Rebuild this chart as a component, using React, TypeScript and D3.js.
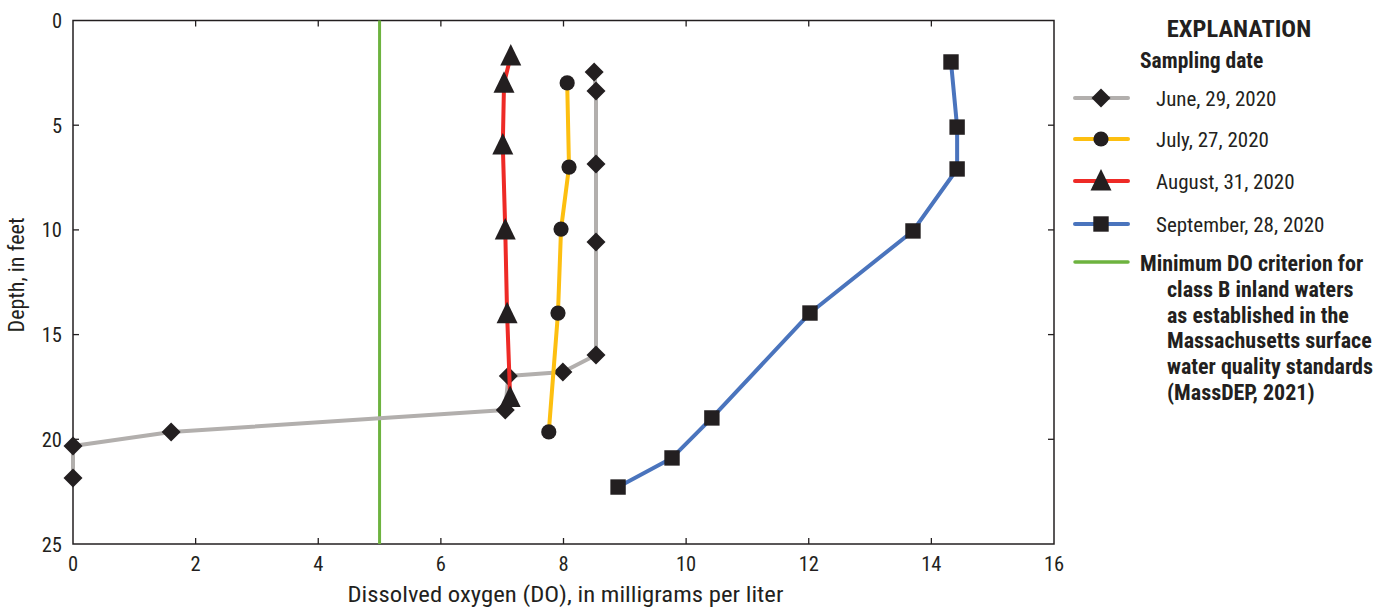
import React, { useEffect, useRef } from "react";
import * as d3 from "d3";

// ---- Data ----
const seriesNames = ["June, 29, 2020", "July, 27, 2020", "August, 31, 2020", "September, 28, 2020"];

const juneDO = [8.5, 8.53, 8.53, 8.53, 8.53, 7.99, 7.1, 7.05, 1.6, 0, 0];
const juneDepth = [2.46, 3.37, 6.85, 10.58, 15.97, 16.79, 16.98, 18.6, 19.65, 20.32, 21.85];

const julyDO = [8.06, 8.09, 7.96, 7.91, 7.76];
const julyDepth = [2.98, 7.0, 9.96, 13.97, 19.65];

const augustDO = [7.14, 7.03, 7.01, 7.05, 7.08, 7.13];
const augustDepth = [1.7, 3.0, 5.95, 10.0, 14.0, 18.0];

const septemberDO = [14.32, 14.42, 14.42, 13.7, 12.02, 10.42, 9.77, 8.89];
const septemberDepth = [1.98, 5.09, 7.09, 10.05, 13.97, 18.98, 20.89, 22.28];

const criterionDO = 5;

const xTicks = [0, 2, 4, 6, 8, 10, 12, 14, 16];
const yTicks = [0, 5, 10, 15, 20, 25];

const criterionLines = [
  "Minimum DO criterion for",
  "class B inland waters",
  "as established in the",
  "Massachusetts surface",
  "water quality standards",
  "(MassDEP, 2021)",
];

const FONT = "'Liberation Sans Narrow', 'Roboto Condensed', 'Arial Narrow', sans-serif";
const INK = "#231f20";

export default function App() {
  const ref = useRef<SVGSVGElement | null>(null);

  useEffect(() => {
    const svg = d3.select(ref.current);
    svg.selectAll("*").remove();

    const left = 73, right = 1054, top = 20.5, bottom = 544;
    const x = d3.scaleLinear().domain([0, 16]).range([left, right]);
    const y = d3.scaleLinear().domain([0, 25]).range([top, bottom]);

    const series = [
      { name: seriesNames[0], xs: juneDO, ys: juneDepth, color: "#b2afad", shape: "diamond" },
      { name: seriesNames[1], xs: julyDO, ys: julyDepth, color: "#fdbf10", shape: "circle" },
      { name: seriesNames[2], xs: augustDO, ys: augustDepth, color: "#ee2a26", shape: "triangle" },
      { name: seriesNames[3], xs: septemberDO, ys: septemberDepth, color: "#4a74bd", shape: "square" },
    ];

    const markerPath = (shape: string, cx: number, cy: number) => {
      if (shape === "diamond") {
        const r = 9.5;
        return `M${cx},${cy - r}L${cx + r},${cy}L${cx},${cy + r}L${cx - r},${cy}Z`;
      }
      if (shape === "square") {
        const h = 7.7;
        return `M${cx - h},${cy - h}h${2 * h}v${2 * h}h${-2 * h}Z`;
      }
      if (shape === "triangle") {
        const w = 10.5, hUp = 12, hDown = 9.5;
        return `M${cx},${cy - hUp}L${cx + w},${cy + hDown}L${cx - w},${cy + hDown}Z`;
      }
      const r = 7.6;
      return `M${cx - r},${cy}a${r},${r} 0 1,0 ${2 * r},0a${r},${r} 0 1,0 ${-2 * r},0Z`;
    };

    // frame
    const g = svg.append("g");
    g.append("rect")
      .attr("x", left).attr("y", top)
      .attr("width", right - left).attr("height", bottom - top)
      .attr("fill", "none").attr("stroke", INK).attr("stroke-width", 1.5);

    const tl = 6;
    xTicks.forEach((t) => {
      if (t !== 0 && t !== 16) {
        g.append("line").attr("x1", x(t)).attr("x2", x(t)).attr("y1", bottom).attr("y2", bottom - tl)
          .attr("stroke", INK).attr("stroke-width", 1.3);
        g.append("line").attr("x1", x(t)).attr("x2", x(t)).attr("y1", top).attr("y2", top + tl)
          .attr("stroke", INK).attr("stroke-width", 1.3);
      }
      g.append("text").attr("x", x(t)).attr("y", 571).attr("text-anchor", "middle")
        .attr("font-family", FONT).attr("font-size", 20.5).attr("fill", INK).text(String(t));
    });
    yTicks.forEach((t) => {
      if (t !== 0 && t !== 25) {
        g.append("line").attr("x1", left).attr("x2", left + tl).attr("y1", y(t)).attr("y2", y(t))
          .attr("stroke", INK).attr("stroke-width", 1.3);
        g.append("line").attr("x1", right).attr("x2", right - tl).attr("y1", y(t)).attr("y2", y(t))
          .attr("stroke", INK).attr("stroke-width", 1.3);
      }
      g.append("text").attr("x", 62).attr("y", y(t) + 7.5).attr("text-anchor", "end")
        .attr("font-family", FONT).attr("font-size", 20.5).attr("fill", INK).text(String(t));
    });

    // axis titles
    g.append("text").attr("x", (left + right) / 2 + 2).attr("y", 601.5).attr("text-anchor", "middle")
      .attr("font-family", FONT).attr("font-size", 22).attr("fill", INK)
      .attr("textLength", 436).attr("lengthAdjust", "spacingAndGlyphs")
      .text("Dissolved oxygen (DO), in milligrams per liter");
    g.append("text").attr("transform", `translate(24,275) rotate(-90)`)
      .attr("text-anchor", "middle")
      .attr("font-family", FONT).attr("font-size", 22).attr("fill", INK)
      .text("Depth, in feet");

    // criterion line
    g.append("line").attr("x1", x(criterionDO)).attr("x2", x(criterionDO)).attr("y1", top).attr("y2", bottom)
      .attr("stroke", "#6db33f").attr("stroke-width", 3);

    series.forEach((s) => {
      const pts: [number, number][] = s.xs.map((v, i) => [x(v), y(s.ys[i])]);
      g.append("path").attr("d", d3.line()(pts) || "")
        .attr("fill", "none").attr("stroke", s.color).attr("stroke-width", 4)
        .attr("stroke-linejoin", "round");
      pts.forEach(([px, py]) => {
        g.append("path").attr("d", markerPath(s.shape, px, py)).attr("fill", INK);
      });
    });

    // legend
    const lg = svg.append("g");
    lg.append("text").attr("x", 1239).attr("y", 37).attr("text-anchor", "middle")
      .attr("font-family", FONT).attr("font-weight", "bold").attr("font-size", 24.5).attr("fill", INK)
      .text("EXPLANATION");
    lg.append("text").attr("x", 1140).attr("y", 68)
      .attr("font-family", FONT).attr("font-weight", "bold").attr("font-size", 21.5).attr("fill", INK)
      .text("Sampling date");
    const legY = [98, 139, 181, 224];
    series.forEach((s, i) => {
      lg.append("line").attr("x1", 1075).attr("x2", 1128).attr("y1", legY[i]).attr("y2", legY[i])
        .attr("stroke", s.color).attr("stroke-width", 4).attr("stroke-linecap", "round");
      lg.append("path").attr("d", markerPath(s.shape, 1101, legY[i])).attr("fill", INK);
      lg.append("text").attr("x", 1156).attr("y", legY[i] + 7.5)
        .attr("font-family", FONT).attr("font-size", 21).attr("fill", INK).text(s.name);
    });
    lg.append("line").attr("x1", 1075).attr("x2", 1128).attr("y1", 262).attr("y2", 262)
      .attr("stroke", "#6db33f").attr("stroke-width", 3.5).attr("stroke-linecap", "round");
    criterionLines.forEach((t, i) => {
      lg.append("text").attr("x", i === 0 ? 1140 : 1167).attr("y", 271 + i * 25.8)
        .attr("font-family", FONT).attr("font-weight", "bold").attr("font-size", 22).attr("fill", INK)
        .text(t);
    });
  }, []);

  return (
    <svg
      ref={ref}
      width={1392}
      height={607}
      style={{ position: "absolute", left: 0, top: 0, background: "#fff", display: "block" }}
    />
  );
}
